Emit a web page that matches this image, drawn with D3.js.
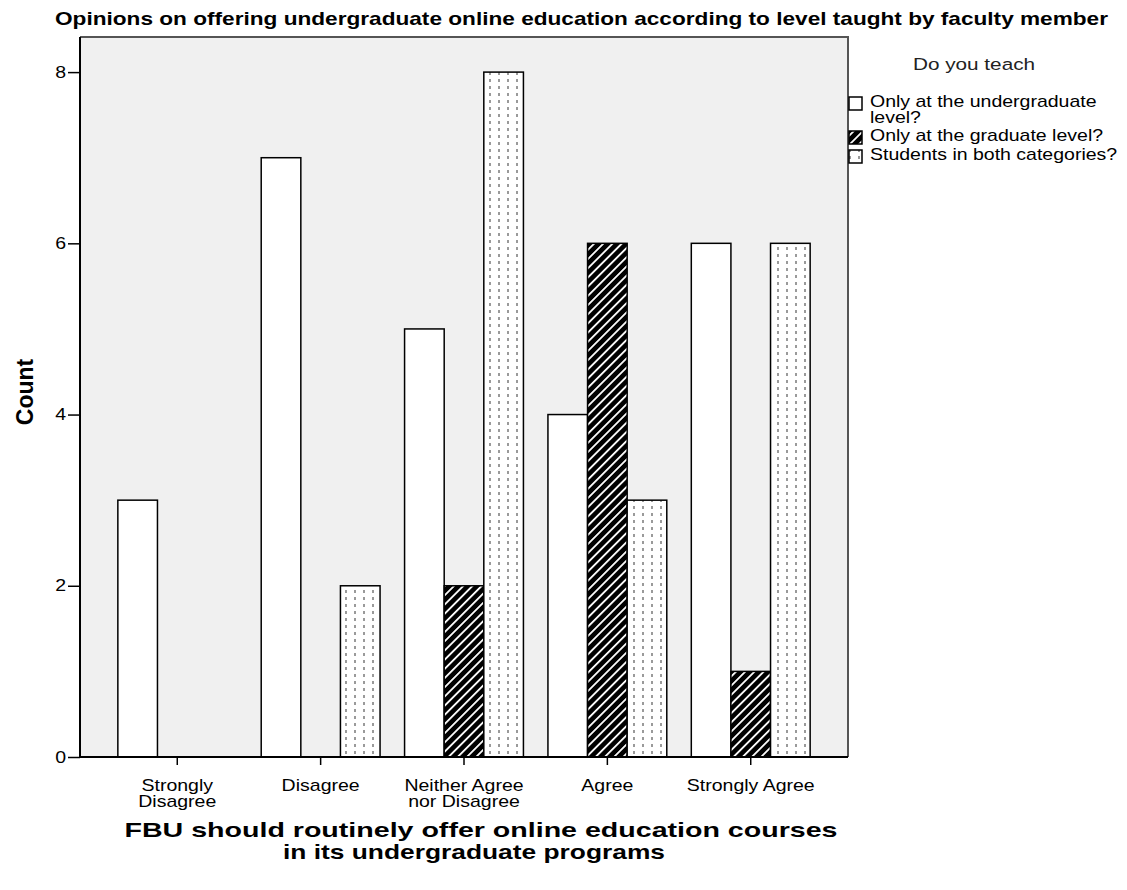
<!DOCTYPE html>
<html><head><meta charset="utf-8">
<script src="https://cdn.jsdelivr.net/npm/d3@7"></script>
<style>body{margin:0;background:#fff}svg text{font-family:"Liberation Sans",Arial,sans-serif}</style>
</head><body><svg id="c" width="1127" height="890"></svg>
<script>
const categories = ["Strongly Disagree","Disagree","Neither Agree nor Disagree","Agree","Strongly Agree"];
const categoryLines = [["Strongly","Disagree"],["Disagree"],["Neither Agree","nor Disagree"],["Agree"],["Strongly Agree"]];
const seriesNames = ["Only at the undergraduate level?","Only at the graduate level?","Students in both categories?"];
const undergradOnly = [3,7,5,4,6];
const graduateOnly = [0,0,2,6,1];
const bothLevels = [0,2,8,3,6];
const yTicks = [0,2,4,6,8];
const title = "Opinions on offering undergraduate online education according to level taught by faculty member";
const xTitle = ["FBU should routinely offer online education courses","in its undergraduate programs"];
const yTitle = "Count";
const legendTitle = "Do you teach";

const series = [undergradOnly, graduateOnly, bothLevels];
const SX = 1.22; // horizontal stretch of the reference's text
const svg = d3.select("#c");
const defs = svg.append("defs");
const hatch = defs.append("pattern").attr("id","hatch").attr("patternUnits","userSpaceOnUse")
  .attr("width",6.5).attr("height",6.5).attr("patternTransform","rotate(45)");
hatch.append("rect").attr("width",6.5).attr("height",6.5).attr("fill","#000");
hatch.append("rect").attr("x",0).attr("width",1.8).attr("height",6.5).attr("fill","#fff");
const dots = defs.append("pattern").attr("id","dots").attr("patternUnits","userSpaceOnUse")
  .attr("width",9).attr("height",7);
dots.append("rect").attr("width",9).attr("height",7).attr("fill","#fff");
dots.append("rect").attr("x",3).attr("y",2).attr("width",2).attr("height",3).attr("fill","#9a9a9a");
const fills = ["#fff","url(#hatch)","url(#dots)"];

const L=80,R=848,T=37,B=757;
const x = d3.scaleBand().domain(categories).range([L,R]).paddingInner(0.171).paddingOuter(0.264);
const xs = d3.scaleBand().domain(d3.range(3)).range([0,x.bandwidth()]);
const y = d3.scaleLinear().domain([0,8.41]).range([B,T]);

svg.append("rect").attr("x",L).attr("y",T).attr("width",R-L).attr("height",B-T).attr("fill","#f0f0f0");

const data = [];
categories.forEach((c,i)=>series.forEach((s,j)=>{ if(s[i]>0) data.push({c,j,v:s[i]}); }));
svg.append("g").selectAll("rect").data(data).join("rect")
  .attr("x",d=>x(d.c)+xs(d.j)).attr("width",xs.bandwidth())
  .attr("y",d=>y(d.v)).attr("height",d=>y(0)-y(d.v))
  .attr("fill",d=>fills[d.j]).attr("stroke","#000").attr("stroke-width",1.5);

svg.append("path").attr("d",`M${L},${T}H${R}V${B}`).attr("fill","none").attr("stroke","#555").attr("stroke-width",2);

const yAxis = svg.append("g").attr("transform",`translate(${L},0)`)
  .call(d3.axisLeft(y).tickValues(yTicks).tickSize(12).tickPadding(2).tickFormat(d3.format("d")));
yAxis.select(".domain").attr("d",`M0,${B}V${T}`).attr("stroke","#000").attr("stroke-width",2);
yAxis.selectAll(".tick line").attr("stroke","#000").attr("stroke-width",1.5);
yAxis.selectAll(".tick text").attr("font-size",16).attr("fill","#000")
  .attr("transform",`translate(-14,0) scale(${SX},1)`).attr("x",0);

const xAxis = svg.append("g").attr("transform",`translate(0,${B})`)
  .call(d3.axisBottom(x).tickSize(8).tickFormat(""));
xAxis.select(".domain").attr("d",`M${L},0H${R}`).attr("stroke","#000").attr("stroke-width",2);
xAxis.selectAll(".tick line").attr("stroke","#000").attr("stroke-width",1.5);
xAxis.selectAll(".tick").each(function(d,i){
  const t = d3.select(this).append("text").attr("text-anchor","middle").attr("font-size",16).attr("fill","#000")
    .attr("transform",`scale(${SX},1)`);
  categoryLines[i].forEach((ln,k)=>t.append("tspan").attr("x",0).attr("y",34+k*16).text(ln));
});

svg.append("text").attr("x",55).attr("y",25).attr("font-size",19).attr("font-weight","bold")
  .attr("textLength",1053).attr("lengthAdjust","spacingAndGlyphs").text(title);
svg.append("text").attr("transform","translate(33,392) rotate(-90)").attr("text-anchor","middle")
  .attr("font-size",23).attr("font-weight","bold").text(yTitle);
const xtLen = [713, 382];
xTitle.forEach((t,k)=>svg.append("text").attr("x",481 - (k?7:0)).attr("y",837+k*22).attr("text-anchor","middle")
  .attr("font-size",21).attr("font-weight","bold")
  .attr("textLength",xtLen[k]).attr("lengthAdjust","spacingAndGlyphs").text(t));

// legend
svg.append("text").attr("transform",`translate(974,70) scale(${SX},1)`).attr("text-anchor","middle")
  .attr("font-size",17).attr("fill","#222").text(legendTitle);
const leg = [
  {lines:["Only at the undergraduate","level?"], y:97},
  {lines:["Only at the graduate level?"], y:131},
  {lines:["Students in both categories?"], y:150}
];
leg.forEach((l,j)=>{
  svg.append("rect").attr("x",849).attr("y",l.y).attr("width",13).attr("height",13)
    .attr("fill",fills[j]).attr("stroke","#000").attr("stroke-width",1.5);
  const t = svg.append("text").attr("font-size",16).attr("fill","#000")
    .attr("transform",`translate(870,0) scale(${SX},1)`);
  l.lines.forEach((ln,k)=>t.append("tspan").attr("x",0).attr("y",l.y+10+k*16).text(ln));
});
</script></body></html>
